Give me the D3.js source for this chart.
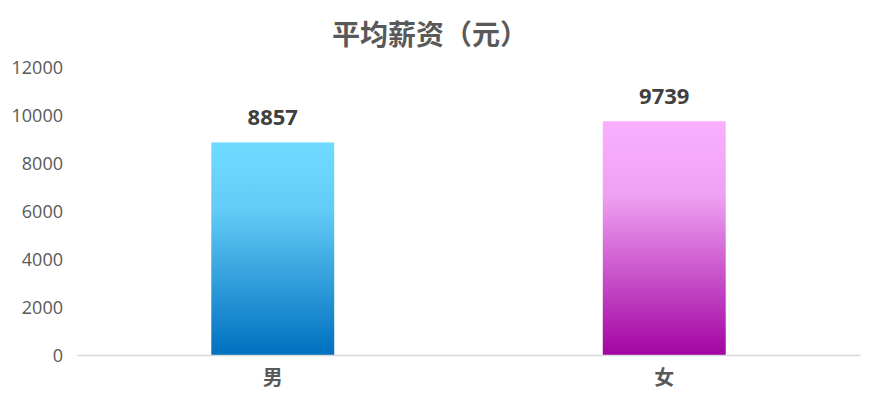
<!DOCTYPE html>
<html><head><meta charset="utf-8">
<script src="https://cdn.jsdelivr.net/npm/d3@7"></script>
<style>body{margin:0;background:#fff}svg{display:block}</style>
</head><body><svg id="c" width="872" height="418"></svg>
<script>
const categories = ["男", "女"];
const values = [8857, 9739];
const yTicks = [0, 2000, 4000, 6000, 8000, 10000, 12000];
const title = "平均薪资（元）";
const gradColors = [["#70DBFF", "#62CBF6", "#0070C0"], ["#F9B0FF", "#EEA0F2", "#A204A2"]];

const svg = d3.select("#c");
const font = "'Open Sans','Noto Sans CJK SC',sans-serif";
const mLeft = 77, mRight = 860, mTop = 67, mBottom = 355;
const x = d3.scaleBand().domain(categories).range([mLeft, mRight]).paddingInner(0.686).paddingOuter(0.343);
const y = d3.scaleLinear().domain([0, 12000]).range([mBottom, mTop]);

const defs = svg.append("defs");
categories.forEach((c, i) => {
  const g = defs.append("linearGradient").attr("id", "g" + i).attr("x1", 0).attr("y1", 0).attr("x2", 0).attr("y2", 1);
  g.append("stop").attr("offset", "0%").attr("stop-color", gradColors[i][0]);
  g.append("stop").attr("offset", "32%").attr("stop-color", gradColors[i][1]);
  g.append("stop").attr("offset", "100%").attr("stop-color", gradColors[i][2]);
});

svg.append("text").attr("x", 430).attr("y", 45).attr("text-anchor", "middle")
  .attr("font-family", "'Noto Sans CJK SC',sans-serif").attr("font-weight", "bold")
  .attr("font-size", 28).attr("fill", "#595959").text(title);

const yAxis = svg.append("g").attr("transform", `translate(${mLeft},0)`)
  .call(d3.axisLeft(y).tickValues(yTicks).tickSize(0).tickPadding(14).tickFormat(d3.format("d")));
yAxis.select(".domain").remove();
yAxis.selectAll("text").attr("font-family", font).attr("font-size", 18).attr("fill", "#595959").attr("dy", "0.35em");

svg.selectAll("rect.bar").data(categories).join("rect").attr("class", "bar")
  .attr("x", d => x(d)).attr("width", x.bandwidth())
  .attr("y", (d, i) => y(values[i])).attr("height", (d, i) => y(0) - y(values[i]))
  .attr("fill", (d, i) => `url(#g${i})`);

const xAxis = svg.append("g").attr("transform", `translate(0,${mBottom})`)
  .call(d3.axisBottom(x).tickSize(0).tickPadding(16).tickSizeOuter(0));
xAxis.select(".domain").attr("stroke", "#D9D9D9").attr("stroke-width", 1.5);
xAxis.selectAll("text").attr("font-family", "'Noto Sans CJK SC',sans-serif").attr("font-weight", "bold")
  .attr("font-size", 20).attr("fill", "#595959");

svg.selectAll("text.val").data(categories).join("text").attr("class", "val")
  .attr("x", d => x(d) + x.bandwidth() / 2).attr("y", (d, i) => y(values[i]) - 17)
  .attr("text-anchor", "middle").attr("font-family", font).attr("font-weight", "bold")
  .attr("font-size", 22).attr("fill", "#404040").text((d, i) => values[i]);
</script></body></html>
